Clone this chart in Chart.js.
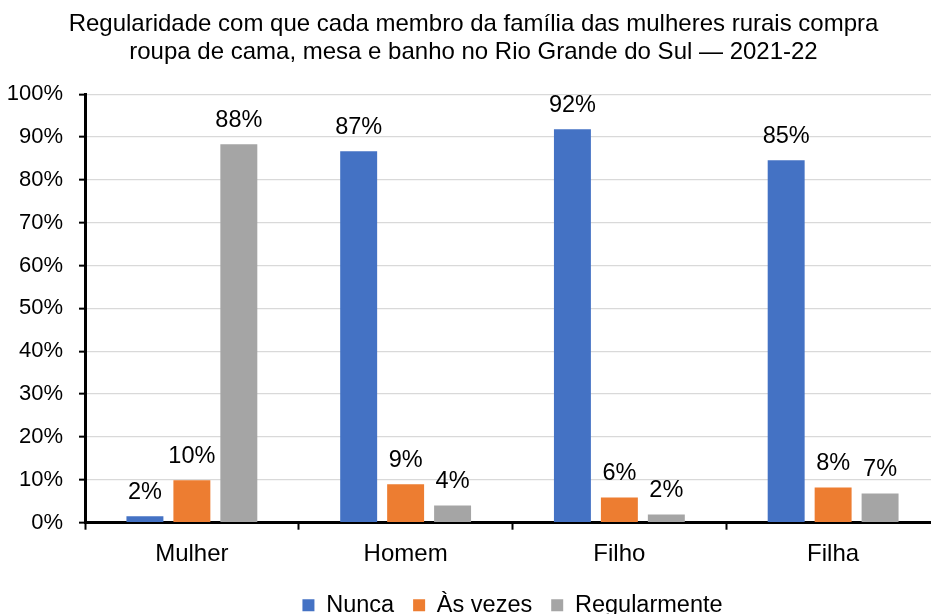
<!DOCTYPE html>
<html>
<head>
<meta charset="utf-8">
<script src="https://cdn.jsdelivr.net/npm/chart.js@4"></script>
<style>
html,body{margin:0;padding:0;overflow:hidden;background:#fff;}
#wrap{position:absolute;left:0;top:0;width:945px;height:614px;}
</style>
</head>
<body>
<div id="wrap"><canvas id="c"></canvas></div>
<script>
const categories = ["Mulher", "Homem", "Filho", "Filha"];
const nunca = [1.5, 86.7, 91.8, 84.6];
const asVezes = [9.9, 9.0, 5.9, 8.2];
const regularmente = [88.3, 4.0, 1.9, 6.8];
const seriesNames = ["Nunca", "Às vezes", "Regularmente"];
const yTicks = [0, 10, 20, 30, 40, 50, 60, 70, 80, 90, 100];
const titleLines = ["Regularidade com que cada membro da família das mulheres rurais compra", "roupa de cama, mesa e banho no Rio Grande do Sul — 2021-22"];

const FONT = "'Liberation Sans', Arial, Helvetica, sans-serif";
Chart.defaults.font.family = FONT;
Chart.defaults.color = '#000';

const barLabels = {
  id: 'barLabels',
  afterDatasetsDraw(chart) {
    const ctx = chart.ctx;
    ctx.save();
    ctx.font = '23.5px ' + FONT;
    ctx.fillStyle = '#000';
    ctx.textAlign = 'center';
    ctx.textBaseline = 'middle';
    chart.data.datasets.forEach((ds, i) => {
      chart.getDatasetMeta(i).data.forEach((bar, j) => {
        ctx.fillText(Math.round(ds.data[j]) + '%', bar.x, bar.y - 24);
      });
    });
    ctx.restore();
  }
};

new Chart(document.getElementById('c'), {
  type: 'bar',
  data: {
    labels: categories,
    datasets: [
      {label: seriesNames[0], data: nunca, backgroundColor: '#4472C4'},
      {label: seriesNames[1], data: asVezes, backgroundColor: '#ED7D31'},
      {label: seriesNames[2], data: regularmente, backgroundColor: '#A5A5A5'}
    ]
  },
  options: {
    responsive: true,
    maintainAspectRatio: false,
    devicePixelRatio: 1,
    animation: false,
    categoryPercentage: 0.659,
    barPercentage: 0.787,
    layout: {padding: {left: 7, right: 5, top: 0, bottom: -13}},
    plugins: {
      title: {
        display: true,
        text: titleLines,
        color: '#000',
        font: {size: 24, weight: 'normal', lineHeight: 1.17},
        padding: {top: 10, bottom: 28}
      },
      legend: {
        position: 'bottom',
        fullSize: false,
        labels: {
          boxWidth: 12,
          boxHeight: 12,
          padding: 19,
          color: '#000',
          font: {size: 23.5}
        }
      },
      tooltip: {enabled: false}
    },
    scales: {
      x: {
        afterFit(axis) { axis.height -= 4; },
        grid: {display: true, drawOnChartArea: false, offset: true, tickColor: '#000', tickWidth: 2, tickLength: 7},
        border: {color: '#000', width: 3},
        ticks: {font: {size: 24}, color: '#000', padding: 10}
      },
      y: {
        min: 0,
        max: 100,
        afterBuildTicks(axis) { axis.ticks = yTicks.map(v => ({value: v})); },
        afterFit(axis) { axis.width = 78; },
        grid: {color: '#d9d9d9', lineWidth: 1.3, tickColor: '#000', tickWidth: 2, tickLength: 6},
        border: {color: '#000', width: 3},
        ticks: {font: {size: 22}, color: '#000', padding: 16, callback: v => v + '%'}
      }
    }
  },
  plugins: [barLabels]
});
</script>
</body>
</html>
